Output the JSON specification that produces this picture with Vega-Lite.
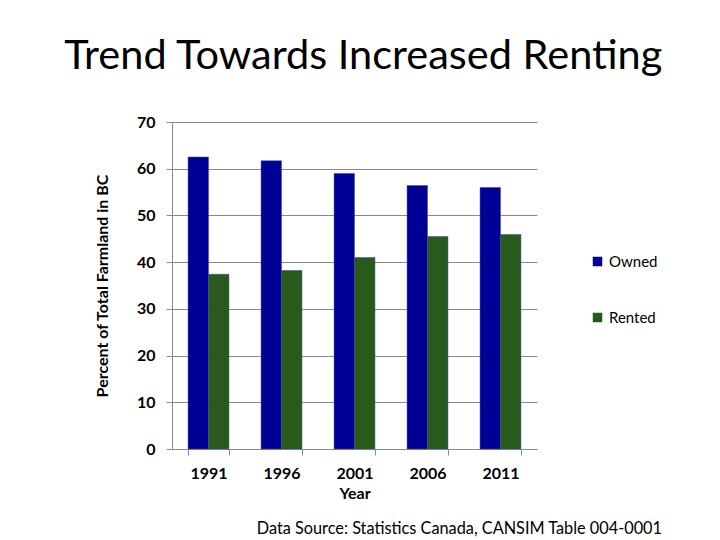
{
  "$schema": "https://vega.github.io/schema/vega-lite/v6.json",
  "description": "Owned vs rented share of total farmland in BC, census years 1991-2011.",
  "background": "white",
  "padding": {"left": 63, "top": 35, "right": 10, "bottom": 5},
  "title": {
    "text": "Trend Towards Increased Renting",
    "font": "Lato",
    "fontSize": 41.5,
    "fontWeight": "normal",
    "color": "black",
    "anchor": "middle",
    "dx": -15,
    "offset": 37
  },
  "config": {
    "view": {"stroke": null},
    "font": "Lato"
  },
  "vconcat": [
    {
      "width": 365,
      "height": 327,
      "title": {
        "text": "Data Source: Statistics Canada, CANSIM Table 004-0001",
        "orient": "bottom",
        "anchor": "end",
        "font": "Lato",
        "fontSize": 16.3,
        "fontWeight": "normal",
        "color": "black",
        "dx": 125,
        "offset": 20
      },
      "data": {
        "values": [
          {"year": "1991", "tenure": "Owned", "percent": 62.5},
          {"year": "1991", "tenure": "Rented", "percent": 37.4},
          {"year": "1996", "tenure": "Owned", "percent": 61.7},
          {"year": "1996", "tenure": "Rented", "percent": 38.2},
          {"year": "2001", "tenure": "Owned", "percent": 59.0},
          {"year": "2001", "tenure": "Rented", "percent": 41.0},
          {"year": "2006", "tenure": "Owned", "percent": 56.4},
          {"year": "2006", "tenure": "Rented", "percent": 45.5},
          {"year": "2011", "tenure": "Owned", "percent": 56.0},
          {"year": "2011", "tenure": "Rented", "percent": 45.9}
        ]
      },
      "mark": {"type": "bar", "stroke": "#3a4a8a", "strokeWidth": 0.5},
      "encoding": {
        "x": {
          "field": "year",
          "type": "ordinal",
          "title": "Year",
          "scale": {"paddingInner": 0.44, "paddingOuter": 0.22},
          "axis": {
            "labelAngle": 0,
            "labelFontSize": 16,
            "labelFontWeight": "bold",
            "labelColor": "black",
            "labelPadding": 10,
            "titleFontSize": 16,
            "titleFontWeight": "bold",
            "titleColor": "black",
            "titlePadding": 4,
            "domainColor": "#8a8a8a",
            "tickColor": "#8a8a8a",
            "tickSize": 6,
            "tickBand": "extent"
          }
        },
        "xOffset": {"field": "tenure", "type": "nominal", "sort": ["Owned", "Rented"]},
        "y": {
          "field": "percent",
          "type": "quantitative",
          "title": "Percent of Total Farmland in BC",
          "scale": {"domain": [0, 70]},
          "axis": {
            "values": [0, 10, 20, 30, 40, 50, 60, 70],
            "labelFontSize": 16,
            "labelFontWeight": "bold",
            "labelColor": "black",
            "labelPadding": 11,
            "titleFontSize": 16,
            "titleFontWeight": "bold",
            "titleColor": "black",
            "titlePadding": 26,
            "domainColor": "#8a8a8a",
            "tickColor": "#8a8a8a",
            "tickSize": 6,
            "gridColor": "#8a8a8a",
            "gridWidth": 1
          }
        },
        "color": {
          "field": "tenure",
          "type": "nominal",
          "sort": ["Owned", "Rented"],
          "scale": {"domain": ["Owned", "Rented"], "range": ["#000096", "#285a1c"]},
          "legend": {
            "title": null,
            "orient": "none",
            "legendX": 418,
            "legendY": 132,
            "symbolType": "square",
            "symbolSize": 90,
            "symbolStrokeWidth": 0,
            "labelFontSize": 15,
            "labelColor": "black",
            "labelOffset": 4,
            "rowPadding": 40
          }
        }
      }
    }
  ]
}
